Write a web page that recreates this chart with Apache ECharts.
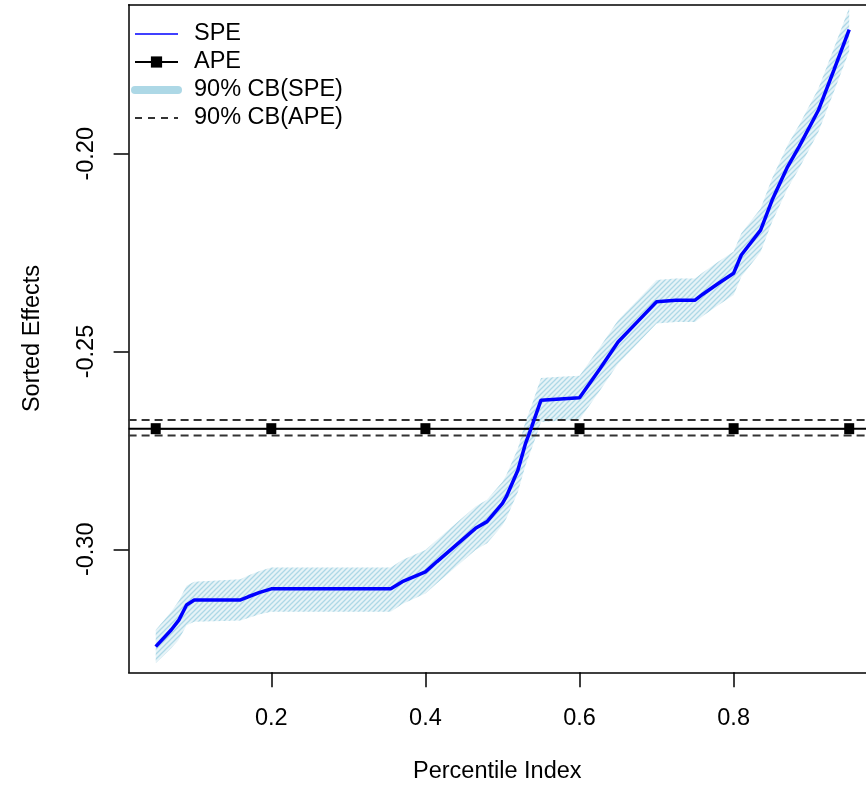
<!DOCTYPE html>
<html>
<head>
<meta charset="utf-8">
<script src="https://cdn.jsdelivr.net/npm/echarts@6/dist/echarts.min.js"></script>
<style>
html,body{margin:0;padding:0;background:#fff;}
#chart{width:866px;height:785px;}
</style>
</head>
<body>
<div id="chart"></div>
<script>
// ---- data ----
const xs = [0.05,0.07,0.08,0.09,0.10,0.16,0.17,0.185,0.20,0.355,0.37,0.40,0.415,0.465,0.48,0.50,0.505,0.52,0.53,0.538,0.55,0.575,0.60,0.627,0.65,0.675,0.70,0.725,0.75,0.76,0.78,0.80,0.81,0.835,0.85,0.87,0.885,0.91,0.93,0.95];
const spe = [-0.3246,-0.3204,-0.3179,-0.3141,-0.3128,-0.3128,-0.3120,-0.3109,-0.3100,-0.3100,-0.3082,-0.3057,-0.3031,-0.2947,-0.2930,-0.2884,-0.2867,-0.2800,-0.2732,-0.2690,-0.2623,-0.2620,-0.2617,-0.2542,-0.2476,-0.2425,-0.2374,-0.2370,-0.2370,-0.2355,-0.2328,-0.2302,-0.2256,-0.2193,-0.2117,-0.2033,-0.1982,-0.1890,-0.1789,-0.1686];
const cbLower = [-0.3288,-0.3250,-0.3228,-0.3192,-0.3183,-0.3180,-0.3174,-0.3164,-0.3158,-0.3158,-0.3138,-0.3112,-0.3086,-0.3002,-0.2985,-0.2939,-0.2922,-0.2855,-0.2787,-0.2745,-0.2678,-0.2675,-0.2672,-0.2597,-0.2531,-0.2480,-0.2429,-0.2425,-0.2425,-0.2410,-0.2383,-0.2357,-0.2311,-0.2248,-0.2172,-0.2088,-0.2037,-0.1945,-0.1844,-0.1741];
const cbUpper = [-0.3204,-0.3158,-0.3130,-0.3092,-0.3082,-0.3076,-0.3066,-0.3055,-0.3046,-0.3046,-0.3027,-0.3002,-0.2976,-0.2892,-0.2875,-0.2829,-0.2812,-0.2745,-0.2677,-0.2635,-0.2567,-0.2564,-0.2561,-0.2487,-0.2421,-0.2370,-0.2319,-0.2315,-0.2315,-0.2300,-0.2273,-0.2247,-0.2201,-0.2138,-0.2062,-0.1978,-0.1927,-0.1835,-0.1734,-0.1631];
const apeX = [0.05,0.2,0.4,0.6,0.8,0.95];
const apeValue = -0.2695;
const apeCbLower = -0.2712;
const apeCbUpper = -0.2673;
const xTicks = [0.2,0.4,0.6,0.8];
const yTicks = [-0.30,-0.25,-0.20];
const xRange = [0.0148, 0.9718];
const yRange = [-0.3311, -0.1623];

// ---- hatch pattern for the SPE band ----
function hatch() {
  const c = document.createElement('canvas');
  const s = 5;
  c.width = s; c.height = s;
  const ctx = c.getContext('2d');
  ctx.fillStyle = 'rgba(173,216,230,0.30)';
  ctx.fillRect(0,0,s,s);
  ctx.strokeStyle = '#add8e6';
  ctx.lineWidth = 1.3;
  ctx.beginPath();
  ctx.moveTo(-1, s+1); ctx.lineTo(s+1, -1);
  ctx.moveTo(-1, 1); ctx.lineTo(1, -1);
  ctx.moveTo(s-1, s+1); ctx.lineTo(s+1, s-1);
  ctx.stroke();
  return c;
}
const pattern = {image: hatch(), repeat: 'repeat'};

const FONT = '"Liberation Sans", Arial, sans-serif';
const FS = 23.5;
const chart = echarts.init(document.getElementById('chart'), null, {renderer: 'canvas'});

const hiddenSym = {opacity: 0};
const hline = v => [[xRange[0], v], [xRange[1], v]];
const option = {
  animation: false,
  backgroundColor: '#fff',
  grid: {
    left: 128.6, top: 4.7, width: 737.4, height: 667.6, show: false,
    outerBoundsMode: 'none', containLabel: false
  },
  legend: {
    orient: 'vertical', left: 126, top: 17,
    itemWidth: 43, itemHeight: 14, itemGap: 4,
    selectedMode: false,
    textStyle: {fontFamily: FONT, fontSize: FS, color: '#000', lineHeight: 22, padding: [0,0,0,11]},
    data: [
      {name: 'SPE', lineStyle: {width: 1.5}, itemStyle: hiddenSym},
      {name: 'APE'},
      {name: '90% CB(SPE)', lineStyle: {width: 8, cap: 'round', color: '#add8e6'}, itemStyle: hiddenSym},
      {name: '90% CB(APE)', lineStyle: {width: 1.8, type: [7, 6], color: '#333'}, itemStyle: hiddenSym}
    ]
  },
  xAxis: [{
    type: 'value', min: xRange[0], max: xRange[1], position: 'bottom',
    name: 'Percentile Index', nameLocation: 'middle', nameGap: 87,
    nameTextStyle: {fontFamily: FONT, fontSize: FS, color: '#000'},
    axisLine: {show: true, onZero: false, lineStyle: {color: '#000', width: 1.5}},
    splitLine: {show: false},
    axisTick: {show: true, length: 15, inside: false, customValues: xTicks, lineStyle: {color: '#000', width: 1.5}},
    axisLabel: {show: true, customValues: xTicks, margin: 34, fontFamily: FONT, fontSize: FS, color: '#000',
      formatter: v => v.toFixed(1)}
  }, {
    type: 'value', min: xRange[0], max: xRange[1], position: 'top',
    axisLine: {show: true, onZero: false, lineStyle: {color: '#000', width: 1.5}},
    axisTick: {show: false}, axisLabel: {show: false}, splitLine: {show: false}
  }],
  yAxis: {
    type: 'value', min: yRange[0], max: yRange[1],
    name: 'Sorted Effects', nameLocation: 'middle', nameGap: 84, nameRotate: 90,
    nameTextStyle: {fontFamily: FONT, fontSize: FS, color: '#000'},
    axisLine: {show: true, onZero: false, lineStyle: {color: '#000', width: 1.5}},
    splitLine: {show: false},
    axisTick: {show: true, length: 15, inside: false, customValues: yTicks, lineStyle: {color: '#000', width: 1.5}},
    axisLabel: {show: true, customValues: yTicks, rotate: 90, margin: 30, fontFamily: FONT, fontSize: FS, color: '#000',
      formatter: v => v.toFixed(2)}
  },
  series: [
    {
      name: 'band', type: 'custom', z: 1, silent: true,
      data: xs.map((x, i) => [x, cbLower[i], cbUpper[i]]),
      encode: {x: 0, y: [1, 2]},
      renderItem: function (params, api) {
        if (params.dataIndex !== 0) return null;
        const pts = [];
        for (let i = 0; i < xs.length; i++) pts.push(api.coord([xs[i], cbUpper[i]]));
        for (let i = xs.length - 1; i >= 0; i--) pts.push(api.coord([xs[i], cbLower[i]]));
        return {type: 'polygon', shape: {points: pts}, style: {fill: pattern, stroke: null}};
      }
    },
    {
      name: '90% CB(SPE)', type: 'line', data: [], symbol: 'none',
      lineStyle: {color: '#add8e6', width: 8, cap: 'round'}, itemStyle: {color: '#add8e6'}
    },
    {
      name: '90% CB(APE)', type: 'line', z: 3, symbol: 'none', silent: true,
      data: hline(apeCbLower),
      lineStyle: {color: '#333', width: 2, type: [8, 5]}, itemStyle: {color: '#333'}
    },
    {
      name: '90% CB(APE)', type: 'line', z: 3, symbol: 'none', silent: true,
      data: hline(apeCbUpper),
      lineStyle: {color: '#333', width: 2, type: [8, 5]}, itemStyle: {color: '#333'}
    },
    {
      name: 'APE line', type: 'line', z: 3, symbol: 'none', silent: true,
      data: hline(apeValue),
      lineStyle: {color: '#000', width: 2}
    },
    {
      name: 'APE', type: 'line', z: 4,
      data: apeX.map(x => [x, apeValue]),
      symbol: 'rect', symbolSize: [10, 11], showSymbol: true,
      itemStyle: {color: '#000'},
      lineStyle: {color: '#000', width: 1.5}
    },
    {
      name: 'SPE', type: 'line', z: 5,
      data: xs.map((x, i) => [x, spe[i]]),
      symbol: 'none',
      lineStyle: {color: '#0000ff', width: 3.5}, itemStyle: {color: '#0000ff'}
    }
  ]
};
chart.setOption(option);
</script>
</body>
</html>
